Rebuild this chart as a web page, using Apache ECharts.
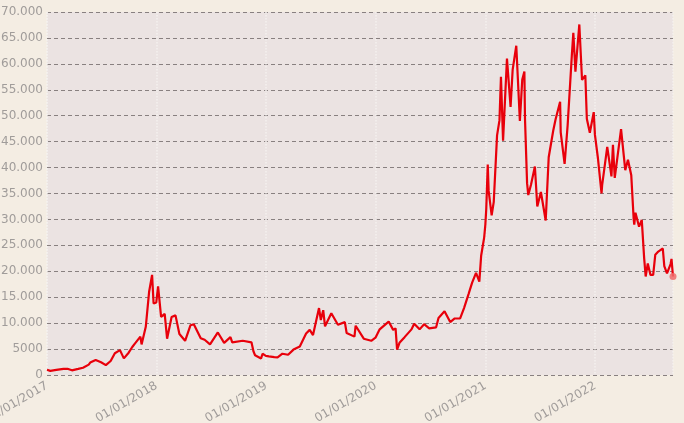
<!DOCTYPE html>
<html>
<head>
<meta charset="utf-8">
<script src="https://cdn.jsdelivr.net/npm/echarts@6/dist/echarts.min.js"></script>
<style>
html,body{margin:0;padding:0;background:#f4ede3;}
#c{width:684px;height:423px;}
</style>
</head>
<body>
<div id="c"></div>
<script>
const dates = [
"2017-01-01","2017-01-05","2017-01-12","2017-02-01","2017-02-25","2017-03-10","2017-03-25","2017-04-15","2017-05-01","2017-05-20","2017-05-25","2017-06-12","2017-06-30","2017-07-16","2017-08-01","2017-08-15","2017-09-01","2017-09-14","2017-09-30","2017-10-12","2017-10-20","2017-11-08","2017-11-12","2017-11-26","2017-12-07","2017-12-17","2017-12-22","2017-12-31",
"2018-01-06","2018-01-16","2018-01-28","2018-02-05","2018-02-20","2018-03-05","2018-03-18","2018-04-06","2018-04-24","2018-05-05","2018-05-28","2018-06-10","2018-06-28","2018-07-24","2018-08-14","2018-09-04","2018-09-10","2018-10-15","2018-11-13","2018-11-20","2018-11-25","2018-12-15","2018-12-20","2018-12-31",
"2019-01-10","2019-01-28","2019-02-08","2019-02-24","2019-03-15","2019-04-02","2019-04-23","2019-05-14","2019-05-26","2019-06-06","2019-06-26","2019-07-02","2019-07-10","2019-07-16","2019-08-06","2019-08-28","2019-09-20","2019-09-26","2019-10-22","2019-10-26","2019-11-22","2019-12-17","2019-12-31",
"2020-01-14","2020-02-13","2020-02-28","2020-03-07","2020-03-12","2020-03-20","2020-04-06","2020-04-29","2020-05-08","2020-05-26","2020-06-10","2020-06-27","2020-07-20","2020-07-28","2020-08-17","2020-09-05","2020-09-20","2020-10-08","2020-10-21","2020-11-05","2020-11-17","2020-11-30","2020-12-11","2020-12-17","2020-12-27","2020-12-31",
"2021-01-03","2021-01-08","2021-01-11","2021-01-21","2021-01-28","2021-02-08","2021-02-16","2021-02-21","2021-02-28","2021-03-13","2021-03-25","2021-04-01","2021-04-13","2021-04-25","2021-05-03","2021-05-10","2021-05-12","2021-05-19","2021-05-23","2021-06-01","2021-06-14","2021-06-22","2021-07-04","2021-07-20","2021-07-30","2021-08-14","2021-08-22","2021-09-06","2021-09-08","2021-09-21","2021-10-01","2021-10-15","2021-10-20","2021-10-27","2021-11-09","2021-11-18","2021-11-29","2021-12-04","2021-12-14","2021-12-27","2021-12-31",
"2022-01-10","2022-01-22","2022-01-24","2022-02-10","2022-02-24","2022-03-01","2022-03-07","2022-03-28","2022-04-11","2022-04-20","2022-05-01","2022-05-09","2022-05-11","2022-05-15","2022-05-27","2022-06-05","2022-06-13","2022-06-18","2022-06-25","2022-07-04","2022-07-13","2022-07-20","2022-07-30","2022-08-14","2022-08-19","2022-08-28","2022-09-09","2022-09-12","2022-09-17"
];
const prices = [
1000,1100,800,980,1180,1200,900,1180,1400,2000,2400,2900,2450,1900,2700,4200,4800,3200,4300,5400,6000,7400,5900,9300,16000,19300,13800,14000,
17100,11200,11800,7000,11200,11500,7900,6600,9600,9800,7100,6800,5900,8200,6200,7300,6300,6600,6300,4500,3800,3200,4100,3700,
3600,3450,3400,4100,3900,4900,5500,8000,8700,7700,12900,10600,12500,9400,11900,9700,10200,8100,7400,9500,7000,6600,7200,
8800,10300,8700,9000,4900,6200,7300,8800,9900,8800,9800,9000,9200,11000,12300,10200,10900,10900,12900,15600,17800,19700,18000,23000,26500,29000,
32000,40600,35500,30800,33400,46200,49100,57500,45200,61000,51700,58900,63500,49000,57000,58500,49500,37000,34700,36700,40200,32500,35300,29800,42000,47100,49300,52700,46800,40700,48100,61600,66000,58500,67600,56900,57800,49400,46700,50700,46300,
41800,35000,36600,44000,38300,44400,38000,47400,39500,41500,38500,30100,29000,31300,28600,29900,22500,19000,21500,19300,19300,23200,23800,24400,21000,19600,21400,22400,19000
];
const yTicks = [0,5000,10000,15000,20000,25000,30000,35000,40000,45000,50000,55000,60000,65000,70000];

const lineData = dates.map((d,i)=>[d,prices[i]]);
const lastPoint = [[dates[dates.length-1], prices[prices.length-1]]];

function fmtNum(v){
  if (v < 10000) return String(v);
  return String(v).replace(/\B(?=(\d{3})+(?!\d))/g,'.');
}
function pad(n){return n<10?'0'+n:''+n;}

const chart = echarts.init(document.getElementById('c'), null, {renderer:'canvas'});
chart.setOption({
  backgroundColor:'#f4ede3',
  animation:false,
  grid:{left:47,right:11,top:12,bottom:48,show:true,backgroundColor:'#ebe3e2',borderWidth:0,containLabel:false,outerBoundsMode:'none'},
  xAxis:{
    type:'time',
    min:'2017-01-01',
    max:dates[dates.length-1],
    minInterval:365*86400000,
    maxInterval:366*86400000,
    axisLine:{show:false},
    axisTick:{show:false},
    axisLabel:{
      rotate:30,
      color:'#a09c9a',
      fontFamily:'DejaVu Sans',
      fontSize:12,
      margin:10,
      hideOverlap:false,
      showMinLabel:true,
      formatter:function(v){const d=new Date(v);return pad(d.getDate())+'/'+pad(d.getMonth()+1)+'/'+d.getFullYear();}
    },
    splitLine:{show:true,lineStyle:{color:'#f5f1ee',type:'dotted',width:1.5}}
  },
  yAxis:{
    type:'value',
    min:yTicks[0],
    max:yTicks[yTicks.length-1],
    interval:yTicks[1]-yTicks[0],
    axisLine:{show:false},
    axisTick:{show:false},
    axisLabel:{color:'#a09c9a',fontFamily:'DejaVu Sans',fontSize:12,margin:4,formatter:fmtNum},
    splitLine:{show:true,lineStyle:{color:'#888080',type:[4,3],width:1}}
  },
  series:[
    {type:'line',data:lineData,showSymbol:false,lineStyle:{color:'#e8000b',width:2.2},itemStyle:{color:'#e8000b'},z:3},
    {type:'scatter',data:lastPoint,symbolSize:7,itemStyle:{color:'#f06a6a',opacity:0.85},z:4}
  ]
});
</script>
</body>
</html>
